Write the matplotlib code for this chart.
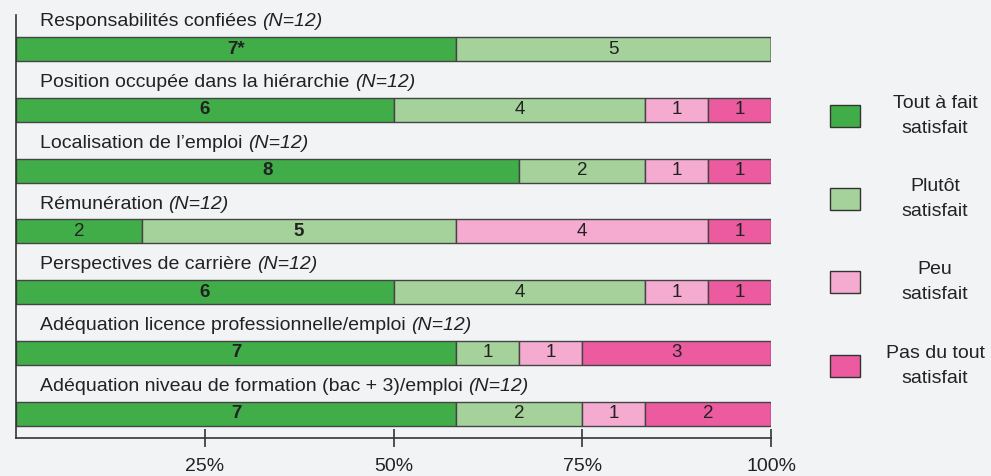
import numpy as np
import matplotlib.pyplot as plt

# Survey data: counts per satisfaction level (N=12 each)
items = ["Responsabilités confiées",
         "Position occupée dans la hiérarchie",
         "Localisation de l\u2019emploi",
         "Rémunération",
         "Perspectives de carrière",
         "Adéquation licence professionnelle/emploi",
         "Adéquation niveau de formation (bac + 3)/emploi"]
n_total = [12, 12, 12, 12, 12, 12, 12]
tout_a_fait = [7, 6, 8, 2, 6, 7, 7]
plutot = [5, 4, 2, 5, 4, 1, 2]
peu = [0, 1, 1, 4, 1, 1, 1]
pas_du_tout = [0, 1, 1, 1, 1, 3, 2]
levels = ["Tout à fait\nsatisfait", "Plutôt\nsatisfait", "Peu\nsatisfait", "Pas du tout\nsatisfait"]
colors = ["#41ad49", "#a4d29a", "#f4abcf", "#ec5a9f"]
notes = ["*", "", "", "", "", "", ""]

bg = "#f2f3f5"
plt.rcParams['font.family'] = ['Liberation Sans', 'DejaVu Sans']

fig = plt.figure(figsize=(9.91, 4.76), dpi=100, facecolor=bg)
ax = fig.add_axes([16 / 991, 1 - 438 / 476, (771 - 16) / 991, 423 / 476])
ax.set_facecolor(bg)

series = [tout_a_fait, plutot, peu, pas_du_tout]
y = np.arange(len(items))
left = np.zeros(len(items))
for k, (vals, col) in enumerate(zip(series, colors)):
    pct = np.array(vals) / np.array(n_total) * 100
    ax.barh(y, pct, left=left, height=0.395, color=col, edgecolor="#444444", linewidth=1.0)
    for i, v in enumerate(vals):
        if v == 0:
            continue
        bold = v == max(s[i] for s in series)
        txt = str(v) + (notes[i] if k == 0 else "")
        ax.text(left[i] + pct[i] / 2, y[i], txt, ha="center", va="center", fontsize=13.5,
                color="#222222", fontweight="bold" if bold else "normal")
    left += pct

for i, name in enumerate(items):
    ax.text(3.2, y[i] - 0.45, name + " ", ha="left", va="center", fontsize=14, color="#222222")
    # italic N annotation right after the label
    ax.annotate("(N=%d)" % n_total[i], xy=(0, 0), xycoords=ax.texts[-1],
                xytext=(1.0, 0.5), textcoords=ax.texts[-1],
                ha="left", va="center", fontsize=14, style="italic", color="#222222")

ax.set_xlim(0, 100)
ax.set_ylim(6.40, -0.56)
ax.set_yticks([])
ax.set_xticks([25, 50, 75, 100])
ax.set_xticklabels(["25%", "50%", "75%", "100%"], fontsize=14, color="#222222")
ax.tick_params(axis="x", direction="inout", length=13, width=1.2, color="#333333", pad=8)
for s in ["top", "right"]:
    ax.spines[s].set_visible(False)
for s in ["left", "bottom"]:
    ax.spines[s].set_color("#333333")
    ax.spines[s].set_linewidth(1.2)

# legend drawn as patches with centered captions
leg_y = [116, 199, 282, 366]
for lab, col, py in zip(levels, colors, leg_y):
    fig.patches.append(plt.Rectangle((830 / 991, 1 - (py + 11) / 476), 30 / 991, 22 / 476,
                                     transform=fig.transFigure, facecolor=col,
                                     edgecolor="#333333", linewidth=1.0))
    fig.text(935 / 991, 1 - py / 476, lab, ha="center", va="center", fontsize=14,
             color="#222222", linespacing=1.6)

fig.savefig("out.png", dpi=100, facecolor=bg)
